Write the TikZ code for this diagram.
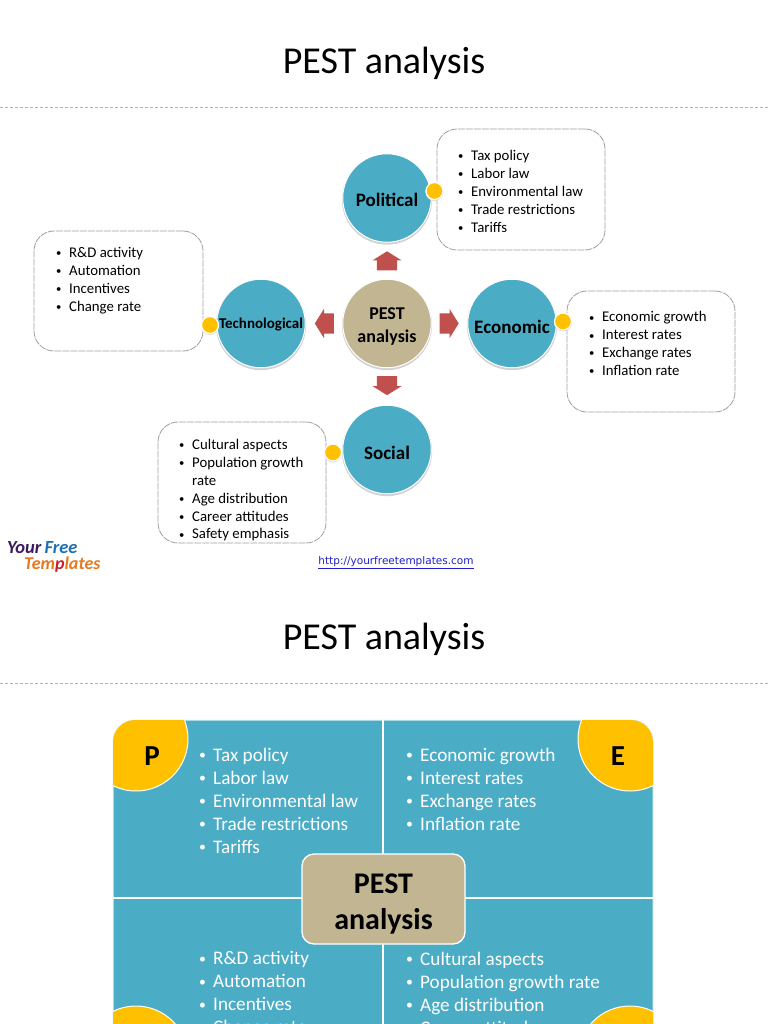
\documentclass[tikz,border=0pt]{standalone}
\usepackage{fontspec}
\setmainfont{Carlito}
\newfontfamily\urlfont{DejaVu Sans}
\usetikzlibrary{shapes.arrows,shadows}
\definecolor{teal}{HTML}{4BACC6}
\definecolor{tan}{HTML}{C2B692}
\definecolor{gold}{HTML}{FFC000}
\definecolor{redarrow}{HTML}{C0504D}
\definecolor{linkblue}{HTML}{1F1FD0}
\newcommand{\bl}[1]{\makebox[14pt][l]{\hspace*{1pt}\raisebox{.12ex}{\scalebox{.72}{\textbullet}}}#1}
\newcommand{\bg}[1]{\makebox[15pt][l]{\hspace*{1pt}\raisebox{.12ex}{\scalebox{.72}{\textbullet}}}#1}
\newcommand{\fs}[2]{\fontsize{#1}{#2}\selectfont}
\tikzset{
  title/.style={font=\fs{38}{42}},
  rulerline/.style={draw=gray!60,line width=.6pt,dash pattern=on 3pt off 2pt},
  ball/.style={circle,minimum size=88.5pt,inner sep=0pt,draw=white,line width=1pt,
    general shadow={shadow xshift=0pt,shadow yshift=-1.5pt,shadow scale=1.02,fill=gray!35}},
  tealball/.style={ball,fill=teal},
  tanball/.style={ball,fill=tan},
  balltext/.style={inner sep=0pt,align=center,font=\fs{19}{23}\bfseries,text=black,yshift=-3pt},
  dot/.style={circle,minimum size=17pt,inner sep=0pt,fill=gold,draw=white,line width=1.2pt,
    general shadow={shadow xshift=0pt,shadow yshift=-1pt,shadow scale=1.05,fill=gray!30}},
  infobox/.style={rectangle,rounded corners=20pt,minimum width=168pt,minimum height=121pt,fill=white,
    draw=gray!75,line width=.8pt,dash pattern=on 7pt off 1pt},
  smalllist/.style={anchor=north west,inner sep=0pt,align=left,font=\fs{14.8}{17.9},text=black},
  biglist/.style={anchor=north west,inner sep=0pt,align=left,font=\fs{19.2}{23},text=white},
  blockarrow/.style={single arrow,fill=redarrow,minimum height=19pt,inner sep=0pt,
    single arrow head extend=4.5pt,single arrow tip angle=116,single arrow head indent=0pt},
  panel/.style={rectangle,rounded corners=22pt,fill=teal,draw=white!85!teal,line width=1pt,minimum width=540pt,minimum height=356pt},
  divider/.style={draw=white,line width=1.3pt},
  hub/.style={rectangle,rounded corners=12pt,fill=tan,draw=white,line width=1.3pt,minimum width=163pt,minimum height=90pt},
  hubtext/.style={inner sep=0pt,align=center,font=\fs{30}{36}\bfseries,text=black,yshift=-5pt},
  letter/.style={font=\fs{29}{30}\bfseries,text=black,inner sep=0pt},
}
\begin{document}
\begin{tikzpicture}[x=1pt,y=-1pt]
\clip (0,0) rectangle (768,1024);
\fill[white] (0,0) rectangle (768,1024);

% --- first slide
\node[title] (t1) at (384,63.5) {PEST analysis};
\coordinate (r1a) at (0,107); \coordinate (r1b) at (768,107);
\draw[rulerline] (r1a) -- (r1b);

\node[infobox] (bp) at (521,189.5) {};
\node[infobox,minimum width=169pt,minimum height=120pt] (bt) at (118.5,291) {};
\node[infobox] (be) at (651,351.5) {};
\node[infobox] (bs) at (242,482.5) {};

\node[smalllist] (lp) at (457,150) {\bl{Tax policy}\\\bl{Labor law}\\\bl{Environmental law}\\\bl{Trade restrictions}\\\bl{Tariffs}};
\node[smalllist] (lt) at (55,247) {\bl{R\&D activity}\\\bl{Automation}\\\bl{Incentives}\\\bl{Change rate}};
\node[smalllist] (le) at (588,311.5) {\bl{Economic growth}\\\bl{Interest rates}\\\bl{Exchange rates}\\\bl{Inflation rate}};
\node[smalllist] (ls) at (178,439) {\bl{Cultural aspects}\\\bl{Population growth}\\\hspace*{14pt}rate\\\bl{Age distribution}\\\bl{Career attitudes}\\\bl{Safety emphasis}};

\node[tealball] (cp) at (387,198) {};
\node[tealball] (ct) at (261,323.5) {};
\node[tealball] (ce) at (512,323.5) {};
\node[tealball] (cs) at (387,449.5) {};
\node[tanball] (cc) at (387,323.5) {};
\node[balltext,yshift=1.5pt] (tp) at (cp) {Political};
\node[balltext,font=\fs{15}{18}\bfseries,yshift=2pt] (tt) at (ct) {Technological};
\node[balltext] (te) at (ce) {Economic};
\node[balltext] (ts) at (cs) {Social};
\node[balltext,font=\fs{18}{23}\bfseries] (tc) at (cc) {PEST\\analysis};

\node[dot] (dp) at (434.5,191) {};
\node[dot] (dt) at (210,325) {};
\node[dot] (de) at (563,321.5) {};
\node[dot] (ds) at (333,452.5) {};

\node[blockarrow,rotate=90] (au) at (387,264) {\rule{0pt}{20pt}};
\node[blockarrow,rotate=180] (al) at (327.5,323.5) {\rule{0pt}{20pt}};
\node[blockarrow] (ar) at (446,323.5) {\rule{0pt}{20pt}};
\node[blockarrow,rotate=-90] (ad) at (387,382.5) {\rule{0pt}{20pt}};

\node[inner sep=0pt,anchor=west,font=\fs{18.5}{18}\bfseries\itshape] (logo1) at (7,548) {\textcolor[HTML]{3B1A5E}{Your}\textcolor[HTML]{1F6FB5}{\,Free}};
\node[inner sep=0pt,anchor=west,font=\fs{18}{18}\bfseries\itshape] (logo2) at (24,565) {\textcolor[HTML]{E8791E}{Tem}\textcolor[HTML]{C8202A}{p}\textcolor[HTML]{E8791E}{lates}};
\node[inner sep=0pt,font=\urlfont\fs{10.5}{12},text=linkblue] (url) at (396,562.5) {\underline{http://yourfreetemplates.com}};

% --- second slide
\node[title] (t2) at (384,639.5) {PEST analysis};
\coordinate (r2a) at (0,683); \coordinate (r2b) at (768,683);
\draw[rulerline] (r2a) -- (r2b);

\node[panel] (pn) at (383,898) {};
\begin{scope}
  \clip[rounded corners=22pt] (113,720) rectangle (653,1076);
  \fill[gold,draw=white,line width=1pt] (136,739) circle[radius=52];
  \fill[gold,draw=white,line width=1pt] (630,739) circle[radius=52];
  \fill[gold,draw=white,line width=1pt] (136,1058) circle[radius=52];
  \fill[gold,draw=white,line width=1pt] (630,1058) circle[radius=52];
\end{scope}
\coordinate (vt) at (383,720); \coordinate (vb) at (383,1076);
\coordinate (hl) at (113,898); \coordinate (hr) at (653,898);
\draw[divider] (vt) -- (vb);
\draw[divider] (hl) -- (hr);
\node[hub] (hb) at (383.5,899) {};
\node[hubtext] (ht) at (hb) {PEST\\analysis};
\node[letter] (lP) at (152,756) {P};
\node[letter] (lE) at (618,756) {E};

\node[biglist] (bl1) at (198,747.5) {\bg{Tax policy}\\\bg{Labor law}\\\bg{Environmental law}\\\bg{Trade restrictions}\\\bg{Tariffs}};
\node[biglist] (bl2) at (405,747.5) {\bg{Economic growth}\\\bg{Interest rates}\\\bg{Exchange rates}\\\bg{Inflation rate}};
\node[biglist] (bl3) at (198,951.5) {\bg{R\&D activity}\\\bg{Automation}\\\bg{Incentives}\\\bg{Change rate}};
\node[biglist] (bl4) at (405,951.5) {\bg{Cultural aspects}\\\bg{Population growth rate}\\\bg{Age distribution}\\\bg{Career attitudes}};
\end{tikzpicture}
\end{document}
